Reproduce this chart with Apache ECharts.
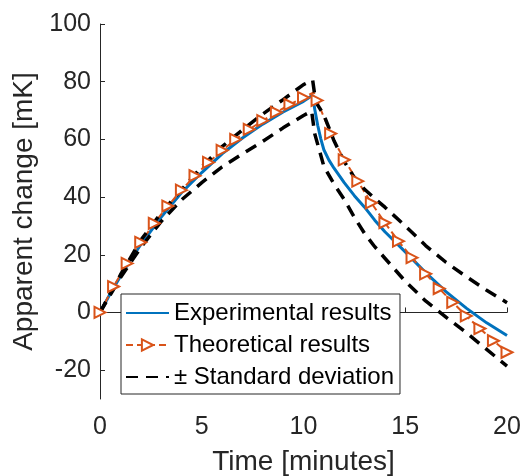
<!DOCTYPE html>
<html>
<head>
<meta charset="utf-8">
<script src="https://cdn.jsdelivr.net/npm/echarts@6/dist/echarts.min.js"></script>
<style>
  html, body { margin: 0; padding: 0; background: #fff; }
  #chart { width: 522px; height: 476px; }
</style>
</head>
<body>
<div id="chart"></div>
<script>
// experimental results (blue)
const tExp = [0, 0.5, 1, 1.5, 2, 3, 4, 5, 6, 7, 8, 9, 10, 10.45, 10.55, 10.7, 10.85, 11, 11.25, 11.5, 12, 12.5, 13, 13.5, 14, 15, 16, 17, 18, 19, 20];
const yExp = [0, 6.5, 12.5, 18.2, 23.5, 33, 41.5, 48.5, 55, 60.5, 65.3, 69.5, 73.2, 75.3, 70.5, 64.8, 60.2, 56.4, 52.8, 50, 45, 40.5, 36.5, 32, 28, 21, 13.8, 7.2, 1.5, -3.6, -8.0];

// theoretical results (orange, marker every 40 s)
const tTheo = [0, 0.667, 1.333, 2, 2.667, 3.333, 4, 4.667, 5.333, 6, 6.667, 7.333, 8, 8.667, 9.333, 10, 10.5, 10.667, 11.333, 12, 12.667, 13.333, 14, 14.667, 15.333, 16, 16.667, 17.333, 18, 18.667, 19.333, 20];
const yTheo = [0, 9.0, 17.0, 24.3, 30.9, 36.9, 42.4, 47.4, 52.0, 56.2, 60.0, 63.5, 66.5, 69.4, 72.1, 74.5, 76.3, 73.5, 62.0, 52.9, 45.5, 38.0, 31.1, 24.7, 19.0, 13.4, 8.3, 3.5, -1.2, -5.6, -9.8, -13.8];
const theoPeakTime = 10.5; // line vertex only, no marker

// ± standard deviation
const tUp = [0, 1, 2, 3, 4, 5, 6, 7, 8, 9, 10, 10.45, 10.6, 11, 11.5, 12, 12.5, 13, 13.5, 14, 15, 16, 17, 18, 19, 20];
const yUp = [0, 13, 25, 34.5, 42.5, 50.5, 57.5, 63.3, 68.8, 73.8, 79, 80.5, 73, 68.5, 59.5, 52.3, 46.8, 42.7, 39.5, 36.5, 30, 23.2, 17.4, 12.4, 7.7, 3.4];
const tLow = [0, 1, 2, 3, 4, 5, 6, 7, 8, 9, 10, 10.4, 10.55, 11, 11.5, 12, 12.5, 13, 13.5, 14, 15, 16, 17, 18, 19, 20];
const yLow = [0, 12, 22.5, 31.5, 39, 45, 50.5, 55, 59.3, 64, 68.3, 69.8, 62, 50.7, 44.5, 39.2, 33, 27.4, 22.8, 18.8, 10.8, 4, -1.6, -7, -12.8, -18.6];

// ticks
const xTicks = [0, 5, 10, 15, 20];
const yTicks = [-20, 0, 20, 40, 60, 80, 100];

const FONT = '"Liberation Sans", Arial, sans-serif';
const TXT = '#262626';

function pairs(t, y) {
  return t.map((v, i) => [v, y[i]]);
}

const theoData = tTheo.map((v, i) =>
  v === theoPeakTime ? { value: [v, yTheo[i]], symbol: 'none' } : [v, yTheo[i]]
);

const chart = echarts.init(document.getElementById('chart'));

const option = {
  animation: false,
  backgroundColor: '#fff',
  textStyle: { fontFamily: FONT, color: TXT },
  grid: { left: 100, right: 15, top: 24, bottom: 77, outerBoundsMode: 'none', containLabel: false },
  legend: {
    left: 121,
    top: 294,
    orient: 'vertical',
    itemWidth: 43,
    itemHeight: 14,
    itemGap: 8,
    padding: [7, 6, 5, 4],
    borderColor: '#262626',
    borderWidth: 1,
    backgroundColor: '#fff',
    textStyle: { fontSize: 24, color: '#000', fontFamily: FONT },
    data: [
      { name: 'Experimental results', itemStyle: { opacity: 0 } },
      { name: 'Theoretical results' },
      { name: '± Standard deviation', itemStyle: { opacity: 0 } }
    ]
  },
  xAxis: {
    type: 'value',
    min: 0,
    max: 20,
    interval: 5,
    name: 'Time [minutes]',
    nameLocation: 'middle',
    nameGap: 49,
    nameTextStyle: { fontSize: 28, color: TXT, fontFamily: FONT },
    axisLine: { lineStyle: { color: TXT, width: 1 } },
    axisTick: { inside: true, length: 5, lineStyle: { color: TXT }, customValues: xTicks },
    axisLabel: { fontSize: 25, color: TXT, margin: 16, customValues: xTicks },
    splitLine: { show: false }
  },
  yAxis: {
    type: 'value',
    min: -30,
    max: 100,
    name: 'Apparent change [mK]',
    nameLocation: 'middle',
    nameGap: 57,
    nameTextStyle: { fontSize: 28, color: TXT, fontFamily: FONT },
    axisLine: { show: true, lineStyle: { color: TXT, width: 1 } },
    axisTick: { show: true, inside: true, length: 5, lineStyle: { color: TXT }, customValues: yTicks },
    axisLabel: { fontSize: 25, color: TXT, margin: 9, customValues: yTicks },
    splitLine: { show: false }
  },
  series: [
    {
      name: 'Experimental results',
      type: 'line',
      data: pairs(tExp, yExp),
      symbol: 'none',
      lineStyle: { color: '#0072BD', width: 3 },
      itemStyle: { color: '#0072BD' }
    },
    {
      name: 'Theoretical results',
      type: 'line',
      data: theoData,
      symbol: 'emptyTriangle',
      symbolSize: 11,
      symbolRotate: -90,
      lineStyle: { color: '#D95319', width: 2, type: [7, 4] },
      itemStyle: { color: '#D95319', borderColor: '#D95319', borderWidth: 2 }
    },
    {
      name: '± Standard deviation',
      type: 'line',
      data: pairs(tUp, yUp),
      symbol: 'none',
      lineStyle: { color: '#000', width: 3.5, type: [12, 8] },
      itemStyle: { color: '#000' }
    },
    {
      name: '± Standard deviation',
      type: 'line',
      data: pairs(tLow, yLow),
      symbol: 'none',
      lineStyle: { color: '#000', width: 3.5, type: [12, 8] },
      itemStyle: { color: '#000' }
    }
  ]
};

chart.setOption(option);
</script>
</body>
</html>
